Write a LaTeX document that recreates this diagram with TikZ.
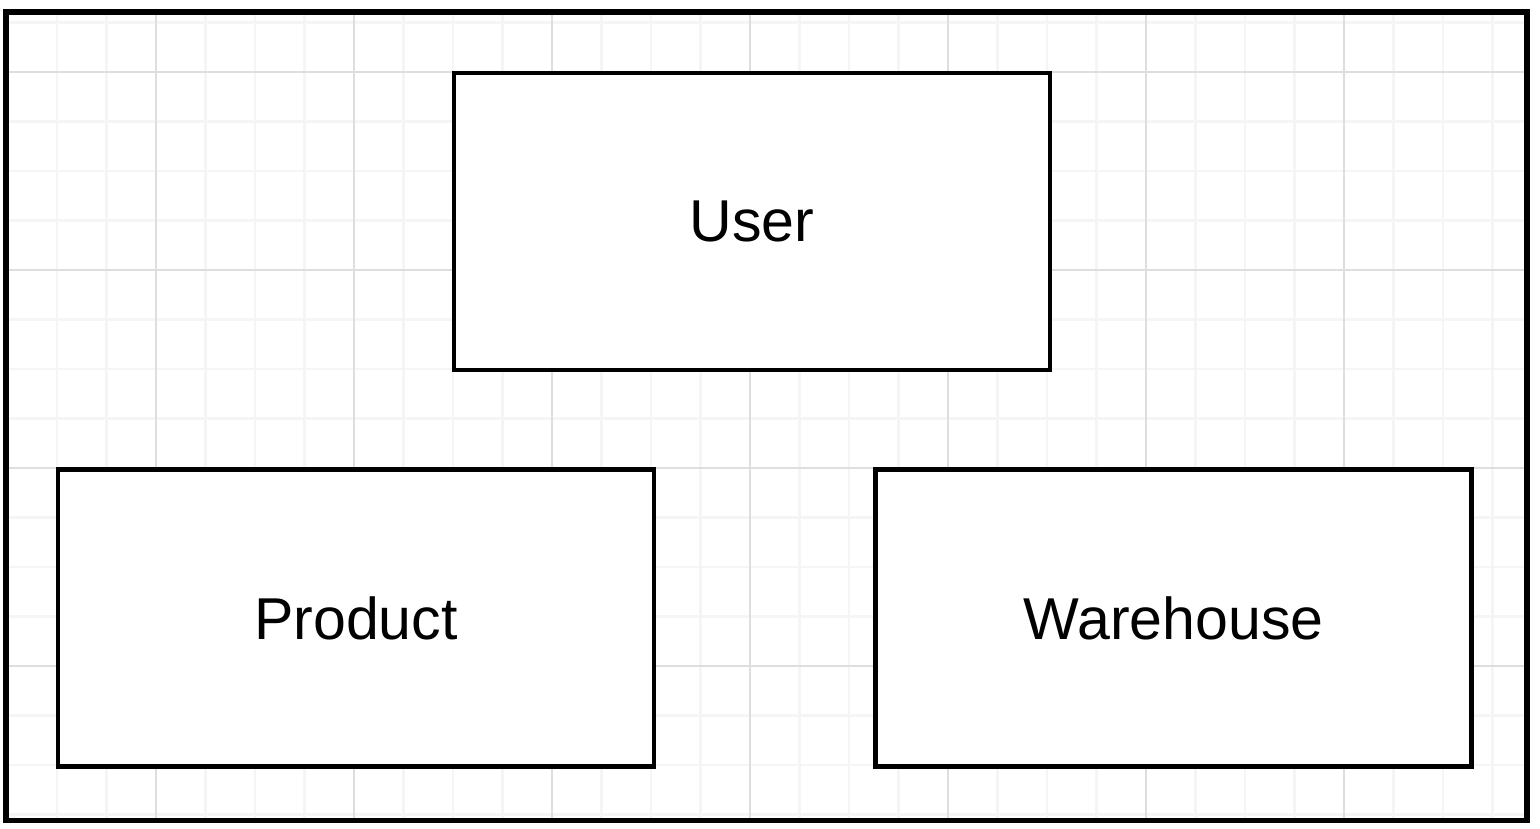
\documentclass[tikz,border=0pt]{standalone}
\usepackage{fontspec}
\setmainfont{Liberation Sans}
\usetikzlibrary{positioning}

\begin{document}
\begin{tikzpicture}[
  x=0.025cm, y=0.025cm,
  entity/.style={rectangle,draw,line width=3.2pt,fill=white,minimum width=14.9cm,minimum height=7.425cm,font=\fontsize{42}{50}\selectfont,on grid},
  minorline/.style={draw=black!4,line width=2pt},
  majorline/.style={draw=black!13,line width=1.6pt},
  framebox/.style={draw,line width=3.8pt},
]
\useasboundingbox (0,0) rectangle (1540,829);
% background grid
\begin{scope}
\clip (6,8.5) rectangle (1527,817);
\foreach \gx in {1,...,30} \draw[minorline] (7.5+49.5*\gx,0) -- (7.5+49.5*\gx,829);
\foreach \gy in {0,...,16} \draw[minorline] (0,14.5+49.5*\gy) -- (1540,14.5+49.5*\gy);
\foreach \gx in {3,7,...,27} \draw[majorline] (7.5+49.5*\gx,0) -- (7.5+49.5*\gx,829);
\foreach \gy in {3,7,11,15} \draw[majorline] (0,14.5+49.5*\gy) -- (1540,14.5+49.5*\gy);
\end{scope}
\draw[framebox] (6,8.5) rectangle (1527,817);

\node (user) [entity] at (752,607.5) {User};
\node (product) [entity,below left=9.9125cm and 9.9cm of user] {Product};
\node (warehouse) [entity,below right=9.9125cm and 10.5375cm of user] {Warehouse};
\end{tikzpicture}
\end{document}
